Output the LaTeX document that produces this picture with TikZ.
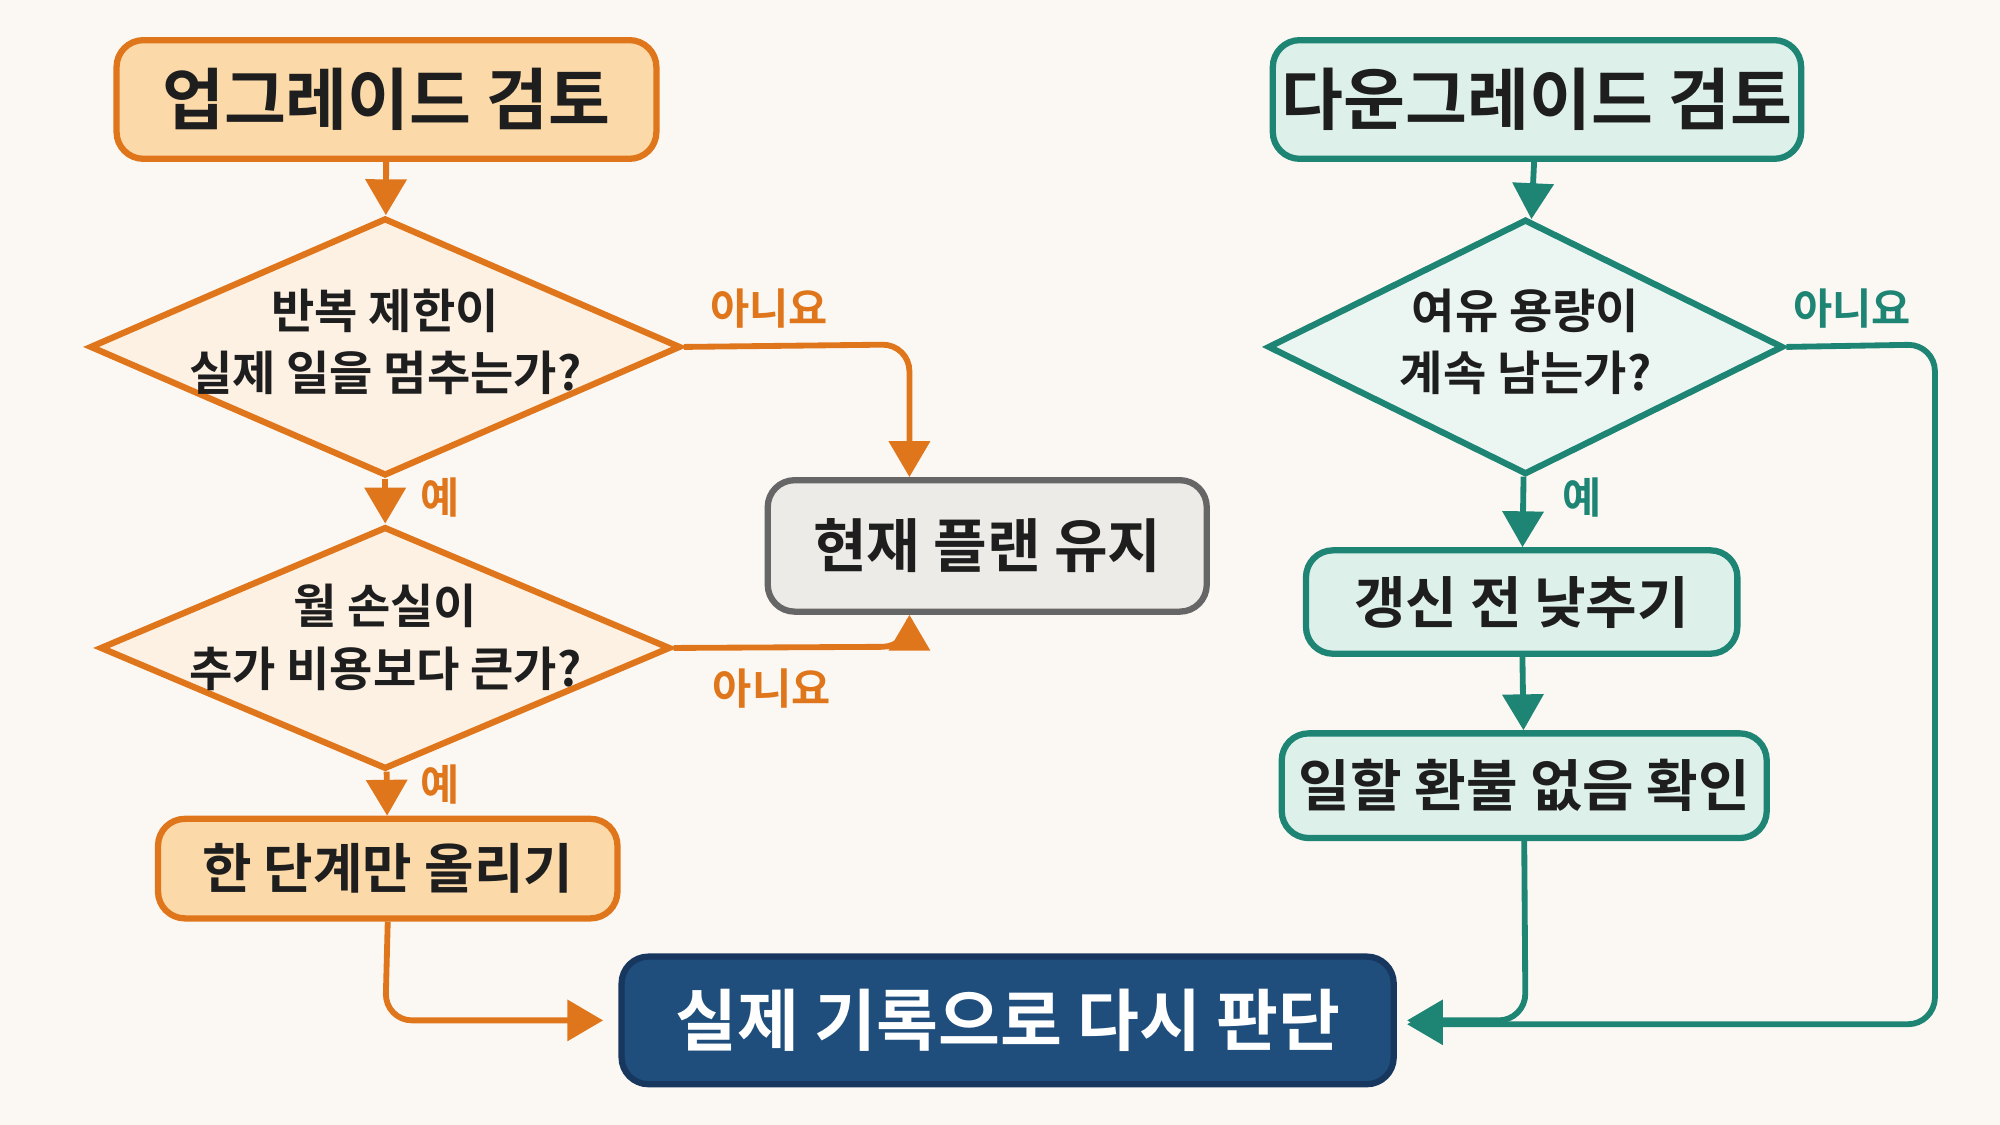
\documentclass[tikz,border=0pt]{standalone}
\usepackage{fontspec}
\setmainfont{Noto Sans CJK KR}[BoldFont={* Bold}]
\usetikzlibrary{shapes.geometric,arrows.meta}
\definecolor{bg}{HTML}{FBF8F3}
\definecolor{org}{HTML}{E0761C}
\definecolor{orgf}{HTML}{FBD9A8}
\definecolor{orgl}{HTML}{FDF1E4}
\definecolor{tl}{HTML}{1E8575}
\definecolor{tlf}{HTML}{DDF0EA}
\definecolor{gr}{HTML}{666666}
\definecolor{grf}{HTML}{EDEBE7}
\definecolor{nv}{HTML}{1F4E7D}
\definecolor{nvb}{HTML}{17375E}
\definecolor{txt}{HTML}{1E1E1E}
\tikzset{
 x=0.01cm,y=-0.01cm,
 box/.style={draw, line width=1.4pt, rounded corners=6pt, inner sep=0pt, text=txt, font=\bfseries},
 obox/.style={box, draw=org, fill=orgf},
 tbox/.style={box, draw=tl, fill=tlf},
 dia/.style={diamond, draw, line width=1.4pt, inner sep=0pt},
 dtxt/.style={align=center, font=\bfseries\fontsize{10.5}{14}\selectfont, text=txt},
 oar/.style={draw=org, line width=1.3pt, -{Triangle[length=8pt,width=9pt]}, rounded corners=6pt},
 tar/.style={draw=tl, line width=1.3pt, -{Triangle[length=8pt,width=9pt]}, rounded corners=6pt},
 olab/.style={text=org, font=\bfseries\fontsize{9.5}{11}\selectfont},
 tlab/.style={text=tl, font=\bfseries\fontsize{9.5}{11}\selectfont},
}
\begin{document}
\begin{tikzpicture}
\fill[bg] (0,0) rectangle (1568,882);
\useasboundingbox (0,0) rectangle (1568,882);
% left
\node[obox, minimum width=4.23cm, minimum height=0.93cm, font=\bfseries\fontsize{15}{18}\selectfont] (up) at (303,78) {업그레이드 검토};
\node[dia, draw=org, fill=orgl, minimum width=4.63cm, minimum height=2.02cm] (d1) at (302,272) {};
\node[dtxt] (t1) at (302,268) {반복 제한이\\실제 일을 멈추는가?};
\node[dia, draw=org, fill=orgl, minimum width=4.47cm, minimum height=1.90cm] (d2) at (302,508) {};
\node[dtxt] (t2) at (302,500) {월 손실이\\추가 비용보다 큰가?};
\node[obox, minimum width=3.60cm, minimum height=0.78cm, font=\bfseries\fontsize{12}{14}\selectfont] (b1) at (304,681) {한 단계만 올리기};
\node[box, draw=gr, fill=grf, minimum width=3.44cm, minimum height=1.03cm, font=\bfseries\fontsize{13}{15}\selectfont] (keep) at (774,428) {현재 플랜 유지};
% right
\node[tbox, minimum width=4.14cm, minimum height=0.93cm, font=\bfseries\fontsize{15}{18}\selectfont] (down) at (1205,78) {다운그레이드 검토};
\node[dia, draw=tl, fill=tlf!60!white, minimum width=4.04cm, minimum height=2.00cm] (d3) at (1196,272) {};
\node[dtxt] (t3) at (1196,268) {여유 용량이\\계속 남는가?};
\node[tbox, minimum width=3.38cm, minimum height=0.81cm, font=\bfseries\fontsize{12.5}{14}\selectfont] (b2) at (1193,472) {갱신 전 낮추기};
\node[tbox, minimum width=3.80cm, minimum height=0.82cm, font=\bfseries\fontsize{12.5}{14}\selectfont] (b3) at (1195,616) {일할 환불 없음 확인};
% final
\node[box, draw=nvb, fill=nv, text=white, minimum width=6.05cm, minimum height=1.00cm, font=\bfseries\fontsize{15}{18}\selectfont] (fin) at (790,800) {실제 기록으로 다시 판단};
% left arrows
\draw[oar] (up) -- (d1);
\draw[oar] (d1) -- (d2);
\draw[oar] (d2) -- (b1);
\coordinate (k1) at (713,270);
\coordinate (k2) at (713,507);
\draw[oar] (d1.east) -- (k1) -- (keep.north -| k1);
\draw[oar] (d2.east) -- (k2) -- (keep.south -| k2);
\coordinate (c1) at (302,800);
\draw[oar] (b1.south) -- (c1) -- ([xshift=-0.12cm]fin.west);
\node[olab] (y1) at (345,390) {예};
\node[olab] (y2) at (345,615) {예};
\node[olab] (n1) at (603,242) {아니요};
\node[olab] (n2) at (605,540) {아니요};
% right arrows
\draw[tar] (down) -- (d3);
\draw[tar] (d3) -- (b2);
\draw[tar] (b2) -- (b3);
\coordinate (c2) at (1196,800);
\draw[tar] (b3.south) -- (c2) -- ([xshift=0.08cm]fin.east);
\coordinate (c3) at (1517,270);
\coordinate (c4) at (1517,803);
\draw[tar] (d3.east) -- (c3) -- (c4) -- ([xshift=0.08cm,yshift=-0.03cm]fin.east);
\node[tlab] (y3) at (1240,390) {예};
\node[tlab] (n3) at (1452,242) {아니요};
\end{tikzpicture}
\end{document}
